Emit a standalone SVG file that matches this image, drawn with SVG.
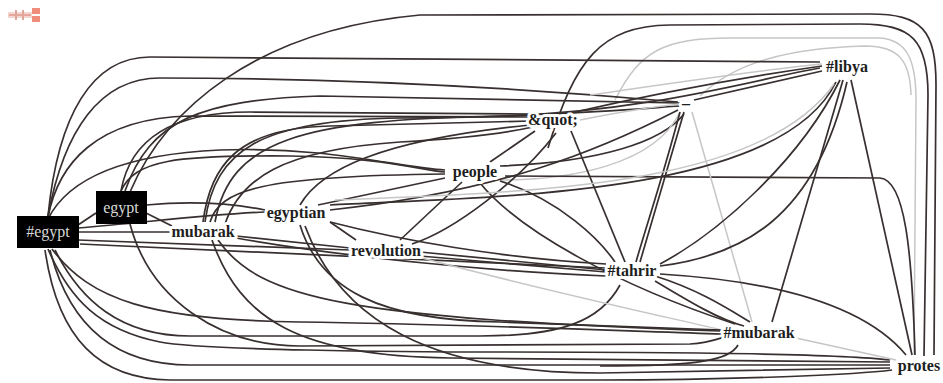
<svg xmlns="http://www.w3.org/2000/svg" width="943" height="383" viewBox="0 0 943 383">
<style>
.e{fill:none;stroke:#382f2f;stroke-width:1.7}
.g{fill:none;stroke:#c6c6c6;stroke-width:1.5}
.lbl{font-family:"Liberation Serif","DejaVu Serif",serif;font-weight:bold;font-size:16px;fill:#1e1e1e;text-anchor:middle;stroke:#fff;stroke-width:6px;paint-order:stroke;stroke-linejoin:round}
.box{fill:#000}
.blbl{font-family:"Liberation Serif","DejaVu Serif",serif;font-size:16px;fill:#d8d8d8;text-anchor:middle}
</style>
<rect width="943" height="383" fill="#fff"/>
<g id="icon">
<rect x="8" y="12" width="24" height="6" fill="#f3d6cf"/>
<line x1="9" y1="15" x2="31" y2="15" stroke="#d9776a" stroke-width="1"/>
<rect x="32" y="8" width="8" height="6" fill="#ef8c7a"/>
<rect x="32" y="16" width="8" height="6" fill="#ef8c7a"/>
<rect x="15" y="10" width="2" height="10" fill="#e0a59a"/>
<rect x="22" y="10" width="2" height="10" fill="#e0a59a"/>
</g>
<g id="connectors">
<path class="e" d="M130,192 C165,110 255,30 420,15 L870,14 C922,14 936,30 936,85 L934,355"/>
<path class="e" d="M548,148 C575,60 600,26 670,25 L860,24 C912,24 928,40 928,95 L924,356"/>
<path class="g" d="M615,100 C640,50 665,38 730,38 L880,38 C906,40 916,58 916,100 L914,355"/>
<path class="g" d="M700,96 C735,62 790,48 865,46 C900,46 910,62 911,95"/>
<path class="e" d="M48,216 C58,115 92,57 150,57 L820,62"/>
<path class="e" d="M48,216 C64,130 100,78 160,78 C400,78 600,95 678,102"/>
<path class="e" d="M48,217 C58,165 95,118 190,116 L530,117"/>
<path class="e" d="M121,191 C130,140 170,112 250,112 L530,114"/>
<path class="e" d="M203,222 C210,168 235,128 330,126 L530,121"/>
<path class="e" d="M300,205 C320,170 380,140 530,125"/>
<path class="e" d="M225,224 C240,180 280,150 400,142 C470,138 510,132 533,127"/>
<path class="e" d="M48,219 C65,185 110,155 220,150 C330,146 400,168 445,170"/>
<path class="e" d="M121,191 C135,160 175,155 290,156 C380,157 420,170 445,172"/>
<path class="e" d="M210,222 C220,190 260,176 445,174"/>
<path class="e" d="M318,205 L445,178"/>
<path class="e" d="M125,191 C150,120 200,100 320,96 L680,103"/>
<path class="e" d="M205,222 C215,150 260,120 400,118 C520,118 620,110 680,106"/>
<path class="g" d="M580,120 C620,112 660,106 680,104"/>
<path class="e" d="M500,166 C600,162 662,142 684,114"/>
<path class="g" d="M680,112 C655,165 570,180 500,180"/>
<path class="e" d="M678,110 C600,150 500,192 330,210"/>
<path class="e" d="M215,222 C230,140 300,120 500,116 C650,112 760,78 820,68"/>
<path class="e" d="M575,112 C680,88 780,72 822,66"/>
<path class="e" d="M694,100 L822,71"/>
<path class="g" d="M590,95 C680,82 760,70 822,64"/>
<path class="e" d="M490,162 L535,131"/>
<path class="e" d="M500,181 C560,200 600,240 615,262"/>
<path class="e" d="M462,182 L400,240"/>
<path class="e" d="M480,183 C520,232 620,286 735,324"/>
<path class="e" d="M505,176 L880,178 C905,180 912,250 915,355"/>
<path class="e" d="M571,131 L625,262"/>
<path class="e" d="M556,133 C520,180 455,230 412,244"/>
<path class="e" d="M684,112 L640,262"/>
<path class="e" d="M680,112 C662,180 645,230 636,262"/>
<path class="g" d="M692,112 L752,322"/>
<path class="e" d="M840,80 C800,160 720,232 660,264"/>
<path class="e" d="M843,80 L772,322"/>
<path class="e" d="M851,80 L912,355"/>
<path class="e" d="M330,205 C500,196 780,196 836,82"/>
<path class="g" d="M335,200 C520,192 760,190 834,84"/>
<path class="e" d="M660,266 C740,256 815,220 847,82"/>
<path class="e" d="M655,276 C700,290 730,310 750,322"/>
<path class="e" d="M655,281 C690,302 720,320 744,326"/>
<path class="e" d="M660,274 C760,280 860,300 906,355"/>
<path class="e" d="M606,272 L420,256"/>
<path class="e" d="M606,276 C500,272 350,258 236,238"/>
<path class="e" d="M606,268 L80,244"/>
<path class="e" d="M606,264 C500,258 400,240 330,222"/>
<path class="e" d="M620,285 C600,322 560,336 480,336 L190,336 C120,336 80,300 55,250"/>
<path class="e" d="M420,252 L606,270"/>
<path class="e" d="M78,240 L350,250"/>
<path class="e" d="M236,236 L350,248"/>
<path class="e" d="M330,222 L356,240"/>
<path class="g" d="M422,258 C550,292 680,320 722,330"/>
<path class="e" d="M78,225 L96,213"/>
<path class="e" d="M78,232 L172,232"/>
<path class="e" d="M146,213 L172,226"/>
<path class="e" d="M78,228 C150,222 200,215 265,212"/>
<path class="e" d="M146,205 C200,200 240,205 265,210"/>
<path class="e" d="M130,224 C150,300 220,346 300,346 L690,344 C710,343 720,338 728,336"/>
<path class="e" d="M50,250 C70,330 120,365 190,365 L890,365"/>
<path class="e" d="M45,250 C58,340 100,379 170,380 L600,380 C750,380 860,374 892,370"/>
<path class="e" d="M300,225 C320,290 380,320 500,322 L722,330"/>
<path class="e" d="M305,226 C340,320 430,373 600,373 L890,368"/>
<path class="e" d="M212,240 C240,320 300,356 450,358 L890,362"/>
<path class="e" d="M218,240 C260,300 350,318 720,331"/>
<path class="e" d="M738,345 C730,360 700,366 600,366"/>
<path class="e" d="M52,249 C90,300 150,320 300,322 C450,324 600,330 722,334"/>
<path class="e" d="M48,249 C70,300 100,330 160,342 C200,350 400,352 500,352 C700,352 850,355 890,360"/>
<path class="g" d="M796,338 L896,360"/>
</g>
<g id="n-hegypt"><rect class="box" x="17" y="216" width="62" height="32"/><text class="blbl" x="48" y="237">#egypt</text></g>
<g id="n-egypt"><rect class="box" x="96" y="191" width="51" height="33"/><text class="blbl" x="121" y="213">egypt</text></g>
<g id="n-mubarak"><text class="lbl" x="203" y="237">mubarak</text></g>
<g id="n-egyptian"><text class="lbl" x="296" y="218">egyptian</text></g>
<g id="n-revolution"><text class="lbl" x="386" y="256">revolution</text></g>
<g id="n-people"><text class="lbl" x="475" y="177">people</text></g>
<g id="n-quot"><text class="lbl" x="553" y="125">&amp;quot;</text></g>
<g id="n-dash"><text class="lbl" x="686" y="109">–</text></g>
<g id="n-libya"><text class="lbl" x="847" y="72">#libya</text></g>
<g id="n-tahrir"><text class="lbl" x="632" y="276">#tahrir</text></g>
<g id="n-hmubarak"><text class="lbl" x="759" y="338">#mubarak</text></g>
<g id="n-protes"><text class="lbl" x="919" y="371">protes</text></g>
</svg>
